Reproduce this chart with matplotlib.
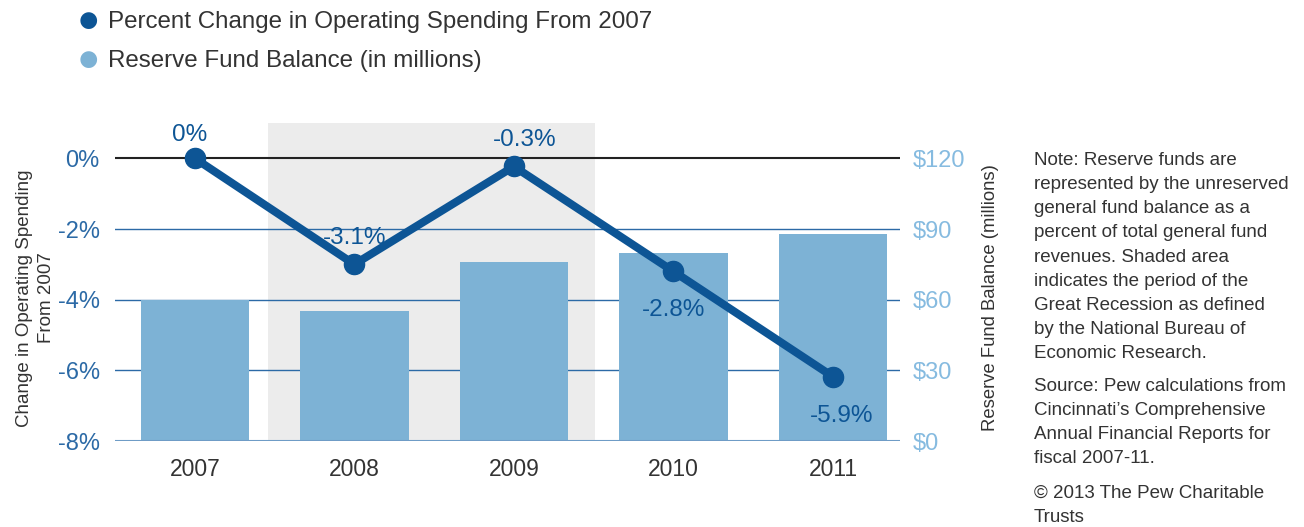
import numpy as np
import matplotlib.pyplot as plt

plt.rcParams['font.family'] = ['Liberation Sans', 'DejaVu Sans']

years = ['2007', '2008', '2009', '2010', '2011']
spend_change = [0.0, -3.0, -0.23, -3.2, -6.18]      # plotted positions (%)
spend_labels = ['0%', '-3.1%', '-0.3%', '-2.8%', '-5.9%']
reserve = [60, 55, 76, 80, 88]                      # $ millions

dark = '#0d5595'
light = '#7db2d5'
tickblue = '#2c6aa6'
rightblue = '#86bbe0'
grey = '#333333'

fig = plt.figure(figsize=(13.04, 5.27), dpi=100)
ax = fig.add_axes([115/1304, 86/527, 785/1304, 318/527])
ax2 = ax.twinx()
# line axis on top of bar axis
ax.set_zorder(ax2.get_zorder() + 1)
ax.patch.set_visible(False)

x = np.arange(len(years))

ax.set_xlim(-0.5, 4.42)
ax.set_ylim(-8, 1)
ax2.set_ylim(0, 135)

# recession shading + gridlines + bars (right axis)
ax2.axvspan(0.46, 2.51, color='#ececec', zorder=0, lw=0)
for v in [30, 60, 90]:
    ax2.axhline(v, color=tickblue, lw=1, zorder=1)
ax2.bar(x, reserve, width=0.68, color=light, zorder=2)

# left axis lines
ax.axhline(-8, color='#6f9cc6', lw=1.5, zorder=1)
ax.axhline(0, color='#222222', lw=1.5, zorder=1)
ax.plot(x, spend_change, color=dark, lw=5.8, marker='o', ms=14.5, zorder=3)

offsets = [(-4, 17), (0, 19), (8, 19), (0, -28), (6, -28)]
for xi, yi, lab, off in zip(x, spend_change, spend_labels, offsets):
    ax.annotate(lab, (xi, yi), xytext=off, textcoords='offset points',
                ha='center', va='center', fontsize=17.5, color=dark)

for a in (ax, ax2):
    for s in a.spines.values():
        s.set_visible(False)
    a.tick_params(length=0)

ax.set_yticks([0, -2, -4, -6, -8])
ax.set_yticklabels(['0%', '-2%', '-4%', '-6%', '-8%'])
ax.tick_params(axis='y', colors=tickblue, labelsize=17, pad=11)
ax.set_xticks(x)
ax.set_xticklabels(years)
ax.tick_params(axis='x', colors=grey, labelsize=16.5, pad=12)

ax2.set_yticks([0, 30, 60, 90, 120])
ax2.set_yticklabels(['$0', '$30', '$60', '$90', '$120'])
ax2.tick_params(axis='y', colors=rightblue, labelsize=17, pad=9)

ax.set_ylabel('Change in Operating Spending\nFrom 2007', fontsize=13.5,
              color=grey, linespacing=1.4)
ax.yaxis.set_label_coords(-0.076, 0.45)
ax2.set_ylabel('Reserve Fund Balance (millions)', fontsize=13.3, color=grey)
ax2.yaxis.set_label_coords(1.104, 0.45)

# legend
fig.text(88/1304, 1 - 22/527, '\u25CF', fontsize=28, color=dark, ha='center', va='center')
fig.text(108/1304, 1 - 22/527, 'Percent Change in Operating Spending From 2007',
         fontsize=17.4, color=grey, va='center')
fig.text(88/1304, 1 - 61/527, '\u25CF', fontsize=28, color=light, ha='center', va='center')
fig.text(108/1304, 1 - 61/527, 'Reserve Fund Balance (in millions)',
         fontsize=17.4, color=grey, va='center')

note = ('Note: Reserve funds are\nrepresented by the unreserved\n'
        'general fund balance as a\npercent of total general fund\n'
        'revenues. Shaded area\nindicates the period of the\n'
        'Great Recession as defined\nby the National Bureau of\n'
        'Economic Research.')
source = ('Source: Pew calculations from\nCincinnati\u2019s Comprehensive\n'
          'Annual Financial Reports for\nfiscal 2007-11.')
copy = '\u00A9 2013 The Pew Charitable\nTrusts'
fig.text(1034/1304, 1 - 152/527, note, fontsize=13.5, color=grey, va='top', linespacing=1.55)
fig.text(1034/1304, 1 - 378/527, source, fontsize=13.5, color=grey, va='top', linespacing=1.55)
fig.text(1034/1304, 1 - 485/527, copy, fontsize=13.5, color=grey, va='top', linespacing=1.55)

fig.savefig('out.png', dpi=100)
